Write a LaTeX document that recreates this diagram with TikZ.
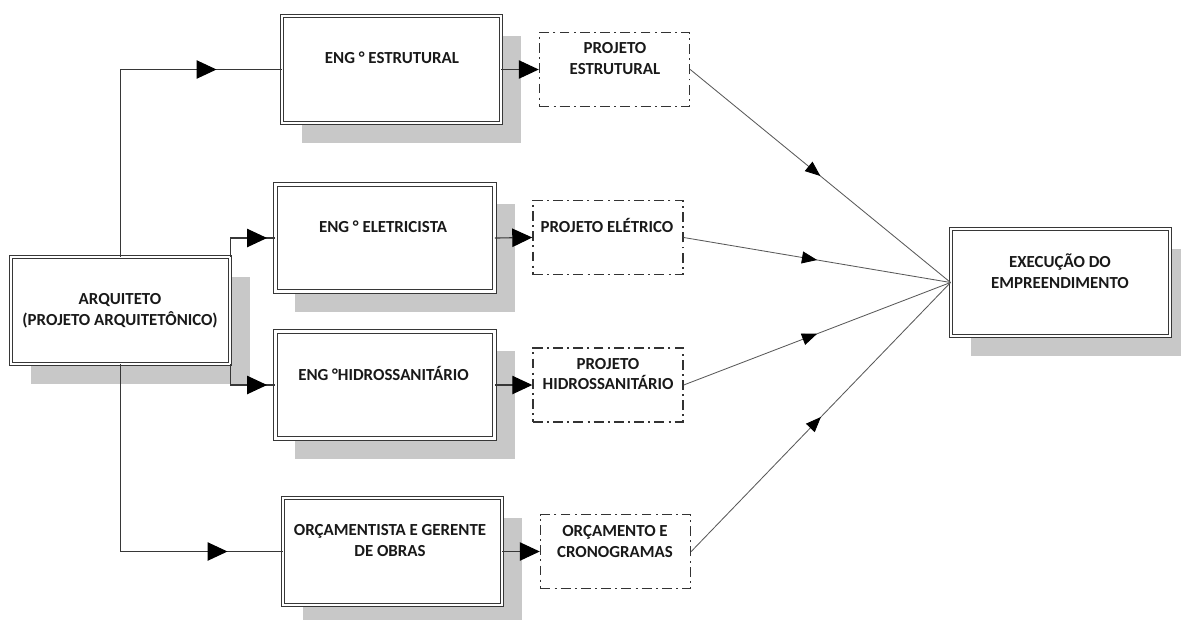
\documentclass[tikz,border=0pt]{standalone}
\usepackage{fontspec}
\setmainfont{Carlito}
\usetikzlibrary{positioning,arrows.meta,shadows,decorations.markings}
\definecolor{shadowgray}{RGB}{200,200,200}
\definecolor{linegray}{RGB}{55,55,55}
\tikzset{etapa/.style={draw=linegray,line width=0.6pt,double=white,double distance=1.8pt,fill=white,minimum width=5.475cm,minimum height=2.675cm,drop shadow={shadow xshift=0.5cm,shadow yshift=-0.5cm,fill=shadowgray,opacity=1}}}
\tikzset{produto/.style={draw=black!80,line width=1pt,dash pattern=on 7pt off 3pt on 1.4pt off 3pt,minimum width=3.75cm,minimum height=1.85cm}}
\tikzset{rotulo/.style={font=\bfseries\fontsize{12}{14.9}\selectfont,text=black!90,align=center}}
\tikzset{liga/.style={draw=linegray,line width=0.8pt}}
\tikzset{diag/.style={draw=black!65,line width=0.6pt}}
\tikzset{ponta/.style={-{Triangle[length=0.5cm,width=0.46cm,fill=black,color=black]}}}
\tikzset{seta/.style={postaction={decorate},decoration={markings,mark=at position #1 with {\arrow{Triangle[length=0.5cm,width=0.46cm,fill=black,color=black]}}}}}
\tikzset{setinha/.style={postaction={decorate},decoration={markings,mark=at position 0.5 with {\arrow{Triangle[length=0.38cm,width=0.3cm,fill=black,color=black]}}}}}

\begin{document}
\begin{tikzpicture}[x=0.025cm,y=-0.025cm]
  \useasboundingbox (0,0) rectangle (1181,619);
  % caixas
  \node[etapa] (arq) at (120.5,310.5) {};
  \node[etapa] (ee) at (391.5,69.5) {};
  \node[etapa] (ele) at (385,238) {};
  \node[etapa] (hid) at (385,385) {};
  \node[etapa] (orc) at (392.5,551.5) {};
  \node[etapa] (exe) at (1060.5,282.5) {};
  \node[produto] (pe) at (614.5,69.5) {};
  \node[produto] (pel) at (608,237.5) {};
  \node[produto] (ph) at (608,385) {};
  \node[produto] (po) at (615.5,551.5) {};
  % textos
  \node[rotulo] (t-arq) at (120,311) {ARQUITETO\\(PROJETO ARQUITETÔNICO)};
  \node[rotulo] (t-ee) at (392,58) {ENG ° ESTRUTURAL};
  \node[rotulo] (t-ele) at (383,227) {ENG ° ELETRICISTA};
  \node[rotulo] (t-hid) at (383.5,373) {ENG °HIDROSSANITÁRIO};
  \node[rotulo] (t-orc) at (390,540.5) {ORÇAMENTISTA E GERENTE\\DE OBRAS};
  \node[rotulo] (t-exe) at (1060,271) {EXECUÇÃO DO\\EMPREENDIMENTO};
  \node[rotulo] (t-pe) at (615,58.5) {PROJETO\\ESTRUTURAL};
  \node[rotulo] (t-pel) at (607,225) {PROJETO ELÉTRICO};
  \node[rotulo] (t-ph) at (608,374) {PROJETO\\HIDROSSANITÁRIO};
  \node[rotulo] (t-po) at (615,541.5) {ORÇAMENTO E\\CRONOGRAMAS};
  % ligacoes
  \draw[liga,seta=-1.625cm] (arq.north) |- (ee.west);
  \draw[liga,seta=-0.2cm] (arq.north east) |- (ele.west);
  \draw[liga,seta=-0.2cm] (arq.south east) |- (hid.west);
  \draw[liga,seta=-1.375cm] (arq.south) |- (orc.west);
  \foreach \a/\b in {ee/pe,ele/pel,hid/ph,orc/po}
    \draw[liga,ponta] (\a.east) -- (\b.west);
  \foreach \p in {pe,pel,ph,po}
    \draw[diag,setinha] (\p.east) -- (exe.west);
\end{tikzpicture}
\end{document}
